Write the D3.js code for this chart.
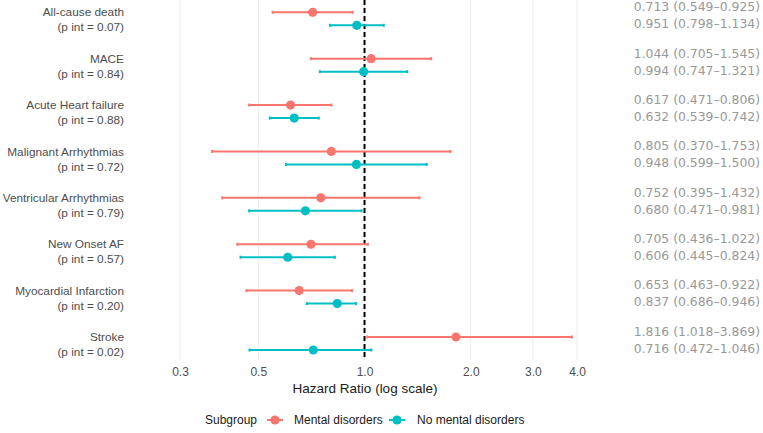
<!DOCTYPE html>
<html lang="en">
<head>
<meta charset="UTF-8">
<script src="https://d3js.org/d3.v7.min.js"></script>
<style>
  body { margin: 0; background: #fff; }
  svg { font-family: "Liberation Sans", Arial, sans-serif; }
</style>
</head>
<body>
<div id="chart"></div>
<script>
  var outcomes = ["All-cause death", "MACE", "Acute Heart failure", "Malignant Arrhythmias",
                  "Ventricular Arrhythmias", "New Onset AF", "Myocardial Infarction", "Stroke"];
  var pint = ["0.07", "0.84", "0.88", "0.72", "0.79", "0.57", "0.20", "0.02"];

  // Mental disorders
  var mentalHR = [0.713, 1.044, 0.617, 0.805, 0.752, 0.705, 0.653, 1.816];
  var mentalLo = [0.549, 0.705, 0.471, 0.370, 0.395, 0.436, 0.463, 1.018];
  var mentalHi = [0.925, 1.545, 0.806, 1.753, 1.432, 1.022, 0.922, 3.869];

  // No mental disorders
  var noMentalHR = [0.951, 0.994, 0.632, 0.948, 0.680, 0.606, 0.837, 0.716];
  var noMentalLo = [0.798, 0.747, 0.539, 0.599, 0.471, 0.445, 0.686, 0.472];
  var noMentalHi = [1.134, 1.321, 0.742, 1.500, 0.981, 0.824, 0.946, 1.046];

  var groups = ["Mental disorders", "No mental disorders"];
  var colors = ["#F8766D", "#00BFC4"];
  var ticks = [0.3, 0.5, 1.0, 2.0, 3.0, 4.0];

  var width = 763, height = 433;

  var svg = d3.select("#chart").append("svg")
      .attr("width", width)
      .attr("height", height);

  var x = d3.scaleLog().domain([0.3, 4]).range([180, 577]);
  var y = d3.scalePoint().domain(outcomes).range([18.8, 343.5]);
  var offset = { "Mental disorders": -6.5, "No mental disorders": 6.5 };
  var textOffset = { "Mental disorders": -12, "No mental disorders": 5 };
  var color = d3.scaleOrdinal().domain(groups).range(colors);

  var rows = [];
  outcomes.forEach(function(o, i) {
    rows.push({outcome: o, group: groups[0], hr: mentalHR[i], lo: mentalLo[i], hi: mentalHi[i]});
    rows.push({outcome: o, group: groups[1], hr: noMentalHR[i], lo: noMentalLo[i], hi: noMentalHi[i]});
  });

  var panelTop = 0, panelBottom = 360;

  // grid
  svg.append("g").selectAll("line")
    .data(ticks)
    .enter().append("line")
      .attr("x1", function(d) { return x(d); })
      .attr("x2", function(d) { return x(d); })
      .attr("y1", panelTop)
      .attr("y2", panelBottom)
      .attr("stroke", "#ebebeb")
      .attr("stroke-width", 1);

  // x axis
  var xAxis = svg.append("g")
    .attr("transform", "translate(0," + panelBottom + ")")
    .call(d3.axisBottom(x).tickValues(ticks).tickFormat(d3.format(".1f")).tickSize(0).tickPadding(7));
  xAxis.select(".domain").remove();
  xAxis.selectAll("text")
    .attr("font-family", "Liberation Sans, Arial, sans-serif")
    .attr("font-size", 12)
    .attr("fill", "#4d4d4d");

  svg.append("text")
    .attr("x", 365)
    .attr("y", 393)
    .attr("text-anchor", "middle")
    .attr("font-size", 13.5)
    .attr("fill", "#1a1a1a")
    .text("Hazard Ratio (log scale)");

  // reference line
  svg.append("line")
    .attr("x1", x(1)).attr("x2", x(1))
    .attr("y1", panelTop).attr("y2", panelBottom)
    .attr("stroke", "#000")
    .attr("stroke-width", 2)
    .attr("stroke-dasharray", "5,3");

  // left labels
  var lab = svg.append("g").selectAll("text")
    .data(outcomes)
    .enter().append("text")
      .attr("text-anchor", "end")
      .attr("font-size", 11.8)
      .attr("fill", "#4d4d4d");
  lab.append("tspan")
    .attr("x", 124)
    .attr("y", function(d) { return y(d) - 6.5; })
    .attr("dy", "0.35em")
    .text(function(d) { return d; });
  lab.append("tspan")
    .attr("x", 124)
    .attr("y", function(d) { return y(d) + 8.5; })
    .attr("dy", "0.35em")
    .text(function(d, i) { return "(p int = " + pint[i] + ")"; });

  // error bars
  var bars = svg.append("g").selectAll("g")
    .data(rows)
    .enter().append("g")
      .attr("stroke", function(d) { return color(d.group); })
      .attr("stroke-width", 2);
  bars.append("line")
    .attr("x1", function(d) { return x(d.lo); })
    .attr("x2", function(d) { return x(d.hi); })
    .attr("y1", function(d) { return y(d.outcome) + offset[d.group]; })
    .attr("y2", function(d) { return y(d.outcome) + offset[d.group]; });
  bars.append("line")
    .attr("x1", function(d) { return x(d.lo); })
    .attr("x2", function(d) { return x(d.lo); })
    .attr("y1", function(d) { return y(d.outcome) + offset[d.group] - 1.5; })
    .attr("y2", function(d) { return y(d.outcome) + offset[d.group] + 1.5; });
  bars.append("line")
    .attr("x1", function(d) { return x(d.hi); })
    .attr("x2", function(d) { return x(d.hi); })
    .attr("y1", function(d) { return y(d.outcome) + offset[d.group] - 1.5; })
    .attr("y2", function(d) { return y(d.outcome) + offset[d.group] + 1.5; });

  // points
  svg.append("g").selectAll("circle")
    .data(rows)
    .enter().append("circle")
      .attr("cx", function(d) { return x(d.hr); })
      .attr("cy", function(d) { return y(d.outcome) + offset[d.group]; })
      .attr("r", 4.6)
      .attr("fill", function(d) { return color(d.group); });

  // right text
  var f = d3.format(".3f");
  svg.append("g").selectAll("text")
    .data(rows)
    .enter().append("text")
      .attr("x", 760)
      .attr("y", function(d) { return y(d.outcome) + textOffset[d.group]; })
      .attr("dy", "0.35em")
      .attr("text-anchor", "end")
      .attr("font-family", "DejaVu Sans, sans-serif")
      .attr("font-size", 12.4)
      .attr("fill", "#999999")
      .text(function(d) { return f(d.hr) + " (" + f(d.lo) + "\u2013" + f(d.hi) + ")"; });

  // legend
  var leg = svg.append("g").attr("transform", "translate(0,420)");
  leg.append("text")
    .attr("x", 205).attr("dy", "0.35em")
    .attr("font-size", 12).attr("fill", "#1a1a1a")
    .text("Subgroup");
  var keyX = [275, 397];
  var labX = [294, 417];
  groups.forEach(function(g, i) {
    leg.append("line")
      .attr("x1", keyX[i] - 8).attr("x2", keyX[i] + 8)
      .attr("stroke", color(g)).attr("stroke-width", 2);
    leg.append("circle")
      .attr("cx", keyX[i]).attr("r", 4.6).attr("fill", color(g));
    leg.append("text")
      .attr("x", labX[i]).attr("dy", "0.35em")
      .attr("font-size", 12).attr("fill", "#1a1a1a")
      .text(g);
  });
</script>
</body>
</html>
